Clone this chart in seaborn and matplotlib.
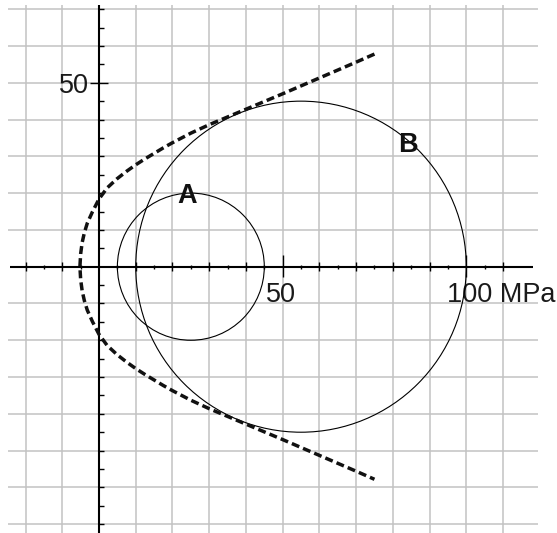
import numpy as np
import pandas as pd
import matplotlib
matplotlib.use("Agg")
import matplotlib.pyplot as plt
from matplotlib.patches import Circle
import seaborn as sns

# Mohr circles (normal stress sigma, shear tau, in MPa)
circle_names = ["A", "B"]
circle_centers = [25.0, 55.0]
circle_radii = [20.0, 45.0]
label_sigma = [23.9, 84.0]
label_tau = [17.2, 31.2]

# Failure envelope, upper branch (the lower branch is its mirror image)
env_sigma = [-5.2, -5.0, -4.6, -4.0, -3.2, -1.8, 0.0, 2.2, 4.9, 7.6, 10.0, 12.5,
             15.0, 17.5, 20.0, 25.0, 30.0, 35.0, 40.0, 45.0, 50.0, 60.0, 70.0, 75.0]
env_tau = [0.0, 3.5, 6.5, 9.2, 11.8, 14.9, 18.4, 21.4, 23.9, 26.0, 27.7, 29.3,
           30.8, 32.3, 33.7, 36.3, 38.6, 40.7, 42.8, 44.9, 47.0, 51.3, 55.6, 57.8]

x_tick_labels = {50: "50", 100: "100 MPa"}
y_tick_labels = {50: "50"}

sns.set_theme(style="white")
plt.rcParams["font.family"] = ["Liberation Sans", "DejaVu Sans"]

fig = plt.figure(figsize=(5.57, 5.33), dpi=100)
ax = fig.add_axes([0, 0, 1, 1])
ax.set_xlim(-26.96, 124.7)
ax.set_ylim(-72.4, 72.5)
ax.axis("off")

grid_kw = dict(color="#c2c2c2", lw=1.1, zorder=1)
for t in range(-70, 71, 10):
    if t != 0:
        ax.hlines(t, -24.7, 119.5, **grid_kw)
for s in range(-20, 111, 10):
    if s != 0:
        ax.vlines(s, -75, 71.1, **grid_kw)

# coordinate axes
ax.hlines(0, -24.2, 118.2, color="black", lw=1.5, zorder=3)
ax.vlines(0, -75, 71.1, color="black", lw=1.5, zorder=3)

# sigma-axis ticks
for s in range(-20, 111, 5):
    if s == 0:
        continue
    if s in x_tick_labels:
        lo, hi = -2.8, 3.3
    elif s % 10 == 0:
        lo, hi = -1.3, 1.3
    else:
        lo, hi = -0.55, 0.55
    ax.vlines(s, lo, hi, color="black", lw=1.0, zorder=3)

# tau-axis ticks
for t in range(-70, 71, 5):
    if t == 0:
        continue
    if t in y_tick_labels:
        ax.hlines(t, -2.4, 2.5, color="black", lw=1.0, zorder=3)
    else:
        ax.hlines(t, 0, 1.4, color="black", lw=1.0, zorder=3)

label_kw = dict(va="baseline", fontsize=19.5, color="#1a1a1a")
for s, txt in x_tick_labels.items():
    if s == 100:
        ax.text(94.8, -9.54, txt, ha="left", **label_kw)
    else:
        ax.text(s - 0.35, -9.54, txt, ha="center", **label_kw)
for t, txt in y_tick_labels.items():
    ax.text(-2.7, 47.3, txt, ha="right", **label_kw)

# Mohr circles
for name, c, r, lx, ly in zip(circle_names, circle_centers, circle_radii, label_sigma, label_tau):
    ax.add_patch(Circle((c, 0), r, fill=False, ec="black", lw=0.8, zorder=4))
    ax.text(lx, ly, name, ha="center", va="baseline", fontsize=19.5, fontweight="bold",
            color="#111111", zorder=6)

# envelope: upper branch reversed then lower branch
sig = np.array(env_sigma)
tau = np.array(env_tau)
env = pd.DataFrame({
    "sigma": np.concatenate([sig[::-1], sig[1:]]),
    "tau": np.concatenate([tau[::-1], -tau[1:]]),
})
sns.lineplot(data=env, x="sigma", y="tau", sort=False, estimator=None, ax=ax,
             color="#111111", lw=2.5, dashes=False, zorder=5)
line = ax.lines[-1]
line.set_dashes((2.3, 1.2))
line.set_dash_capstyle("butt")

fig.savefig("out.png", dpi=100)
